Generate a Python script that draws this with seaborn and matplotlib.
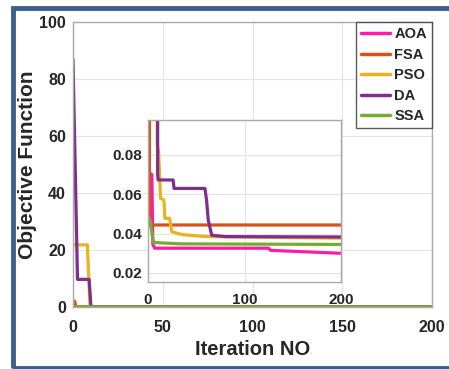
import numpy as np
import pandas as pd
import matplotlib
matplotlib.use("Agg")
import matplotlib.pyplot as plt
import seaborn as sns
from matplotlib.patches import Rectangle

# ---- data ----
algorithms = ["AOA", "FSA", "PSO", "DA", "SSA"]
colors = ["#FF1AA8", "#D95319", "#EDB120", "#7E2F8E", "#77AC30"]

aoa_x = [0, 1, 4, 5, 7, 125, 127, 200]
aoa_y = [0.086, 0.071, 0.070, 0.0345, 0.0326, 0.0326, 0.0315, 0.0300]

fsa_x = [0, 1, 1.5, 200]
fsa_y = [2.0, 2.0, 0.0444, 0.0444]

pso_x = [0, 8, 9.5, 11, 13, 16.5, 17.5, 22.5, 24.5, 35, 60, 200]
pso_y = [21.8, 21.8, 0.085, 0.0817, 0.058, 0.0571, 0.0478, 0.0478, 0.041, 0.0395, 0.0385, 0.0377]

da_x = [0, 2.5, 9, 10, 10.5, 26, 27, 59, 60.7, 62.4, 66, 80, 200]
da_y = [86.9, 9.7, 9.7, 0.07, 0.0673, 0.0673, 0.063, 0.063, 0.057, 0.047, 0.0392, 0.0385, 0.0383]

ssa_x = [0, 2, 5.5, 33, 200]
ssa_y = [0.0486, 0.047, 0.0355, 0.0348, 0.0345]

main_xticks = [0, 50, 100, 150, 200]
main_yticks = [0, 20, 40, 60, 80, 100]
inset_xticks = [0, 100, 200]
inset_yticks = [0.02, 0.04, 0.06, 0.08]

series_x = [aoa_x, fsa_x, pso_x, da_x, ssa_x]
series_y = [aoa_y, fsa_y, pso_y, da_y, ssa_y]

frames = []
for name, xs, ys in zip(algorithms, series_x, series_y):
    frames.append(pd.DataFrame({"Iteration": xs, "Value": ys, "Algorithm": name}))
df = pd.concat(frames, ignore_index=True)
palette = dict(zip(algorithms, colors))

sns.set_theme(style="whitegrid")
plt.rcParams["font.family"] = ["Liberation Sans", "DejaVu Sans"]
plt.rcParams["font.weight"] = "bold"

W, H = 449, 369
fig = plt.figure(figsize=(W / 100, H / 100), dpi=100)
fig.patch.set_facecolor("white")

# blue frame
fig.patches.append(Rectangle((12.5 / W, 1.5 / H), (W + 10) / W, (H - 9.0) / H,
                             transform=fig.transFigure, fill=False,
                             edgecolor="#3D5F8F", linewidth=3.5, zorder=0))

ax = fig.add_axes([73 / W, 1 - 307 / H, (432 - 73) / W, (307 - 22) / H])
sns.lineplot(data=df, x="Iteration", y="Value", hue="Algorithm", hue_order=algorithms,
             palette=palette, linewidth=2.3, sort=False, estimator=None, ax=ax)
ax.set_xlim(0, 200)
ax.set_ylim(0, 100)
ax.set_xticks(main_xticks)
ax.set_yticks(main_yticks)
ax.tick_params(axis="x", labelsize=11.5, direction="in", length=3, color="#555555", pad=9)
ax.tick_params(axis="y", labelsize=11.5, direction="in", length=3, color="#555555", pad=5)
for lab in ax.get_xticklabels() + ax.get_yticklabels():
    lab.set_fontweight("bold")
ax.grid(True, color="#E4E4E4", linewidth=0.8)
for s in ax.spines.values():
    s.set_color("#AAAAAA")
    s.set_linewidth(1.0)
ax.set_xlabel("Iteration NO", fontsize=14.5, fontweight="bold", labelpad=4)
ax.set_ylabel("Objective Function", fontsize=15, fontweight="bold", labelpad=2)

leg = ax.legend(loc="upper right", fontsize=10.5, frameon=True, fancybox=False,
                handlelength=2.0, handletextpad=0.3, labelspacing=0.45,
                borderpad=0.35, borderaxespad=0.0)
leg.get_frame().set_edgecolor("#333333")
leg.get_frame().set_linewidth(1.0)
for t in leg.get_texts():
    t.set_fontweight("bold")
for line in leg.get_lines():
    line.set_linewidth(2.5)

# inset
axi = fig.add_axes([148 / W, 1 - 282 / H, (341 - 148) / W, (282 - 120) / H])
sns.lineplot(data=df, x="Iteration", y="Value", hue="Algorithm", hue_order=algorithms,
             palette=palette, linewidth=2.3, sort=False, estimator=None, ax=axi, legend=False)
axi.set_xlim(0, 200)
axi.set_ylim(0.0154, 0.0978)
axi.set_xticks(inset_xticks)
axi.set_yticks(inset_yticks)
axi.set_yticklabels([f"{v:.2f}" for v in inset_yticks])
axi.tick_params(axis="x", labelsize=11, direction="in", length=3, color="#555555", pad=8)
axi.tick_params(axis="y", labelsize=11, direction="in", length=3, color="#555555", pad=4)
for lab in axi.get_xticklabels() + axi.get_yticklabels():
    lab.set_fontweight("bold")
axi.set_xlabel("")
axi.set_ylabel("")
axi.grid(True, color="#E4E4E4", linewidth=0.8)
axi.set_facecolor("white")
for s in axi.spines.values():
    s.set_color("#AAAAAA")
    s.set_linewidth(1.0)

fig.savefig("out.png", dpi=100)
